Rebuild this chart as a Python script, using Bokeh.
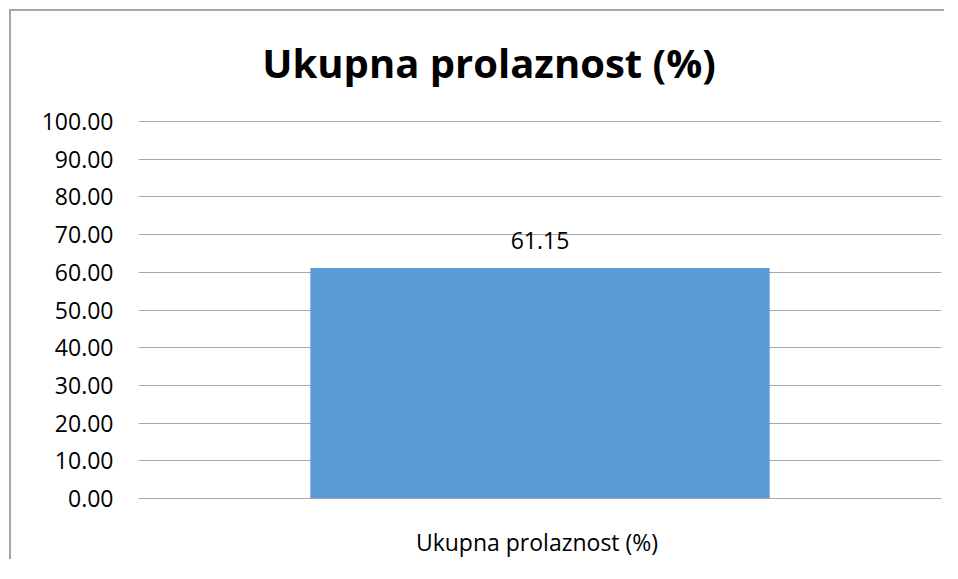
from bokeh.plotting import figure
from bokeh.models import ColumnDataSource, LabelSet, FixedTicker, NumeralTickFormatter
from bokeh.core.properties import value
from bokeh.embed import file_html
from bokeh.resources import INLINE

categories = ["Ukupna prolaznost  (%)"]
values = [61.15]
y_ticks = [0, 10, 20, 30, 40, 50, 60, 70, 80, 90, 100]
title_text = "Ukupna prolaznost (%)"

FONT = "Open Sans"
GRID = "#a6a6a6"

source = ColumnDataSource(dict(cat=categories, val=values,
                               lbl=[f"{v:.2f}" for v in values]))
title_source = ColumnDataSource(dict(cat=categories, top=[y_ticks[-1]], t=[title_text]))

# frame extends above the 100 line so the title can sit inside it
p = figure(x_range=categories, y_range=(0, 126.8), width=935, height=550,
           output_backend="svg", toolbar_location=None,
           min_border_left=127, min_border_right=5,
           min_border_top=9, min_border_bottom=63)

p.styles = {"margin-left": "9px", "margin-top": "9px",
            "border-left": "2px solid " + GRID, "border-top": "2px solid " + GRID}

p.vbar(x="cat", top="val", width=0.572, source=source,
       fill_color="#5B9BD5", line_color=None)

labels = LabelSet(x="cat", y="val", text="lbl", source=source,
                  text_align="center", text_baseline="alphabetic", y_offset=19,
                  text_font_size="23px", text_font=value(FONT), text_color="#000000")
p.add_layout(labels)

title = LabelSet(x="cat", y="top", text="t", source=title_source,
                 x_offset=-51, y_offset=44,
                 text_align="center", text_baseline="alphabetic",
                 text_font=value(FONT), text_font_size="40px", text_font_style="bold",
                 text_color="#000000")
p.add_layout(title)

p.outline_line_color = None
p.background_fill_color = "white"
p.border_fill_color = "white"

p.xgrid.grid_line_color = None
p.ygrid.grid_line_color = GRID
p.ygrid.grid_line_width = 1
p.ygrid.ticker = FixedTicker(ticks=y_ticks)

p.yaxis.ticker = FixedTicker(ticks=y_ticks)
p.yaxis.formatter = NumeralTickFormatter(format="0.00")
p.yaxis.axis_line_color = None
p.yaxis.major_tick_line_color = None
p.yaxis.minor_tick_line_color = None
p.yaxis.major_label_text_font = FONT
p.yaxis.major_label_text_font_size = "23px"
p.yaxis.major_label_text_color = "#000000"
p.yaxis.major_label_standoff = 19

p.xaxis.axis_line_color = GRID
p.xaxis.major_tick_line_color = None
p.xaxis.minor_tick_line_color = None
p.xaxis.major_label_text_font = FONT
p.xaxis.major_label_text_font_size = "23px"
p.xaxis.major_label_text_color = "#000000"
p.xaxis.major_label_standoff = 21

open("out.html", "w").write(file_html(p, INLINE))
